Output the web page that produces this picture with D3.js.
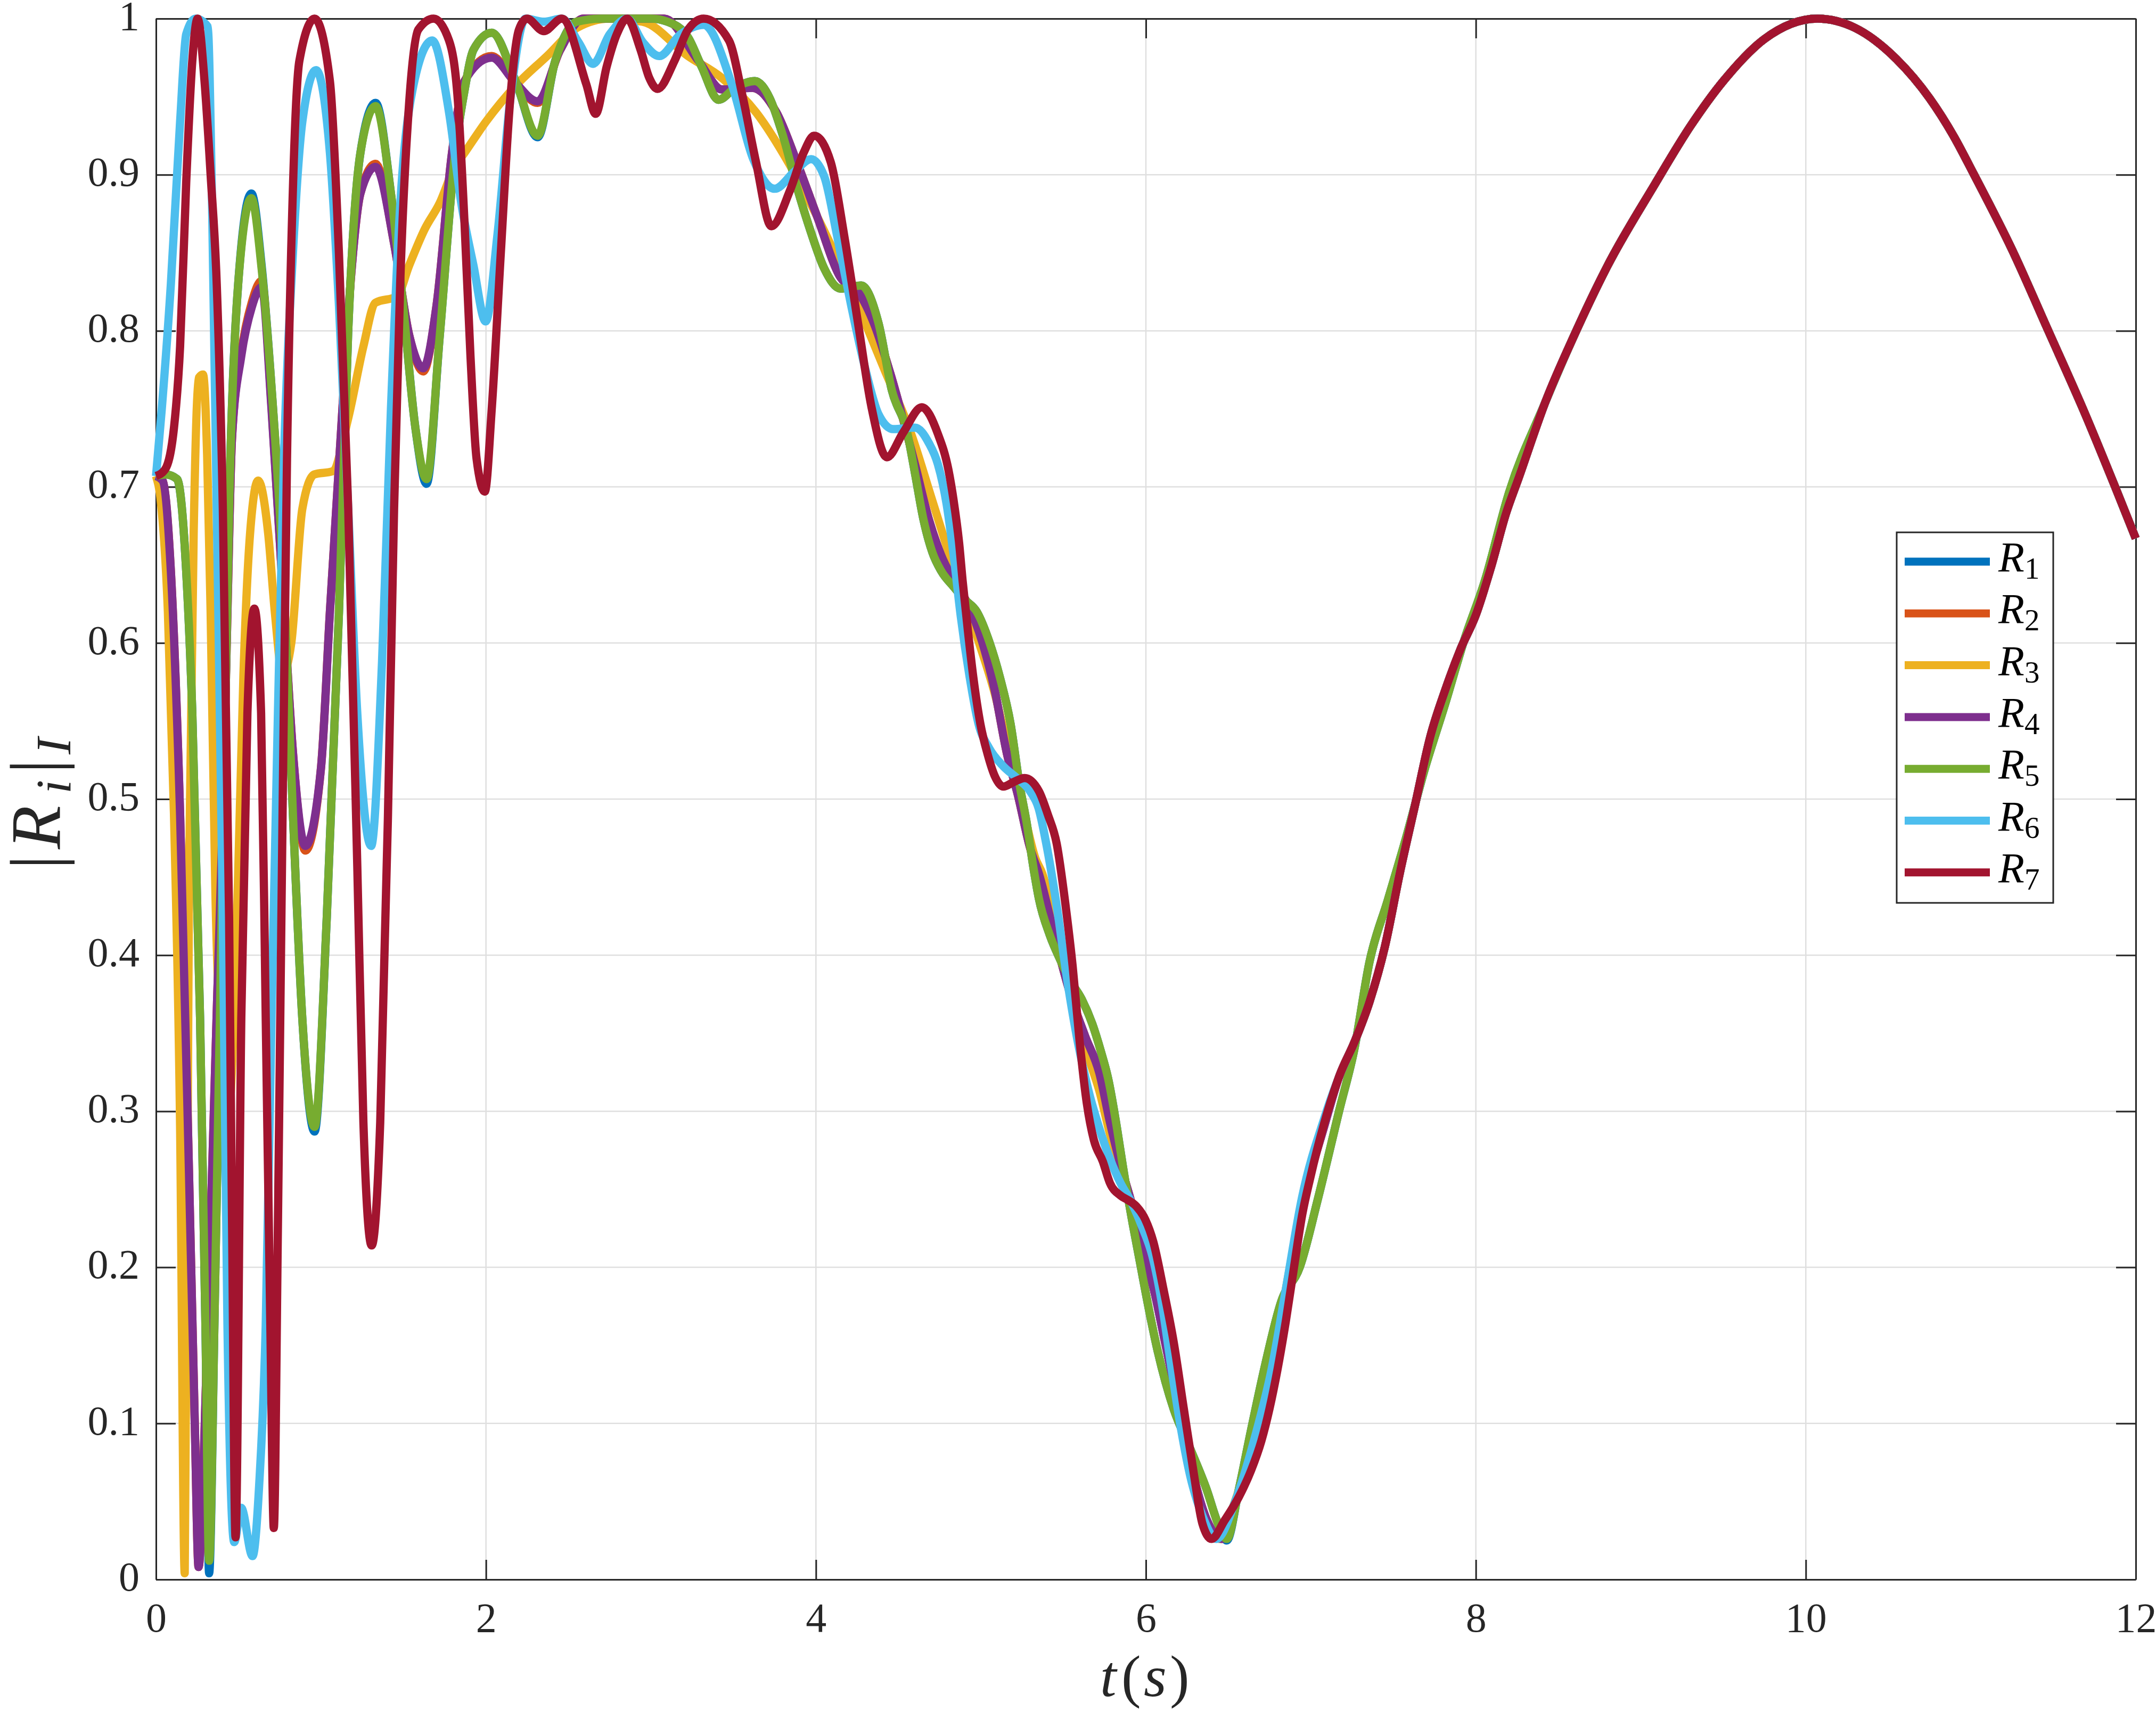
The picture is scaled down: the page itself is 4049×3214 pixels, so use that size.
<!DOCTYPE html>
<html><head><meta charset="utf-8">
<script src="https://cdn.jsdelivr.net/npm/d3@7"></script>
<style>body{margin:0;background:#fff}svg{display:block}</style>
</head><body>
<svg id="chart" width="4049" height="3214"></svg>
<script>
// ---------------- data (t in s, value |R_i|_I) ----------------
const seriesNames = ["1","2","3","4","5","6","7"];
const seriesColors = ["#0072BD","#D95319","#EDB120","#7E2F8E","#77AC30","#4DBEEE","#A2142F"];
const xTickValues = [0,2,4,6,8,10,12];
const xTickLabels = ["0","2","4","6","8","10","12"];
const yTickValues = [0,0.1,0.2,0.3,0.4,0.5,0.6,0.7,0.8,0.9,1];
const yTickLabels = ["0","0.1","0.2","0.3","0.4","0.5","0.6","0.7","0.8","0.9","1"];

// shared late part (curves overlap)
const lateCommon = [[7.172,0.3224],[7.264,0.3443],[7.356,0.3703],[7.448,0.4052],[7.54,0.453],[7.632,0.4964],[7.724,0.54],[7.816,0.5703],[7.908,0.5963],[8.0,0.618],[8.092,0.6486],[8.184,0.6834],[8.257,0.705]];
const tailCommon = [[8.42,0.754],[8.6,0.798],[8.8,0.842],[9.08,0.893],[9.3,0.931],[9.5,0.96],[9.75,0.987],[10.07,1.0],[10.3,0.994],[10.55,0.974],[10.75,0.949],[10.9,0.924],[11.02,0.90],[11.25,0.852],[11.47,0.80],[11.7,0.745],[11.875,0.70],[12,0.667]];

const r1Early = [[0,0.707],[0.06,0.708],[0.128,0.705],[0.183,0.646],[0.22,0.555],[0.267,0.36],[0.3,0.16],[0.322,0.004],[0.355,0.17],[0.387,0.359],[0.415,0.53],[0.443,0.686],[0.498,0.83],[0.578,0.888],[0.64,0.842],[0.70,0.764],[0.776,0.633],[0.83,0.49],[0.887,0.359],[0.961,0.287],[1.035,0.424],[1.109,0.62],[1.165,0.80],[1.239,0.914],[1.331,0.946],[1.424,0.888],[1.498,0.816],[1.572,0.738],[1.64,0.702],[1.72,0.797],[1.813,0.914],[1.87,0.954],[1.924,0.98],[2.035,0.991],[2.18,0.96],[2.313,0.924],[2.42,0.973],[2.55,0.998],[2.7,1.0],[3.0,1.0],[3.1,0.998],[3.225,0.988],[3.308,0.969],[3.41,0.948],[3.514,0.956],[3.63,0.96],[3.72,0.949],[3.8,0.925],[3.885,0.892],[3.967,0.864],[4.05,0.84],[4.15,0.827],[4.275,0.829],[4.379,0.805],[4.46,0.762],[4.555,0.734],[4.6,0.709],[4.652,0.679],[4.706,0.658],[4.76,0.646],[4.835,0.636],[4.9,0.628],[4.975,0.62],[5.05,0.601],[5.115,0.578],[5.18,0.548],[5.233,0.51],[5.277,0.485],[5.32,0.455],[5.352,0.436],[5.417,0.413],[5.481,0.397],[5.546,0.383],[5.61,0.372],[5.675,0.356],[5.728,0.338],[5.771,0.321],[5.825,0.289],[5.86,0.265],[5.92,0.228],[5.97,0.2],[6.0,0.183],[6.07,0.147],[6.169,0.109],[6.268,0.084],[6.367,0.058],[6.44,0.035],[6.49,0.025],[6.564,0.058],[6.638,0.096],[6.724,0.138],[6.82,0.178],[6.934,0.2005],[7.043,0.244],[7.172,0.3005],[7.264,0.34],[7.356,0.396],[7.467,0.4355],[7.576,0.4748],[7.687,0.518],[7.816,0.5617],[7.926,0.6007],[8.055,0.64],[8.202,0.6966]];

const r2Early = [[0,0.707],[0.04,0.704],[0.09,0.646],[0.146,0.49],[0.2,0.26],[0.235,0.1],[0.258,0.008],[0.29,0.08],[0.331,0.228],[0.37,0.37],[0.405,0.49],[0.435,0.63],[0.46,0.73],[0.517,0.786],[0.58,0.818],[0.64,0.832],[0.70,0.752],[0.776,0.62],[0.83,0.53],[0.905,0.467],[1.0,0.52],[1.054,0.62],[1.13,0.75],[1.183,0.836],[1.239,0.888],[1.331,0.907],[1.443,0.856],[1.535,0.797],[1.62,0.774],[1.70,0.816],[1.794,0.914],[1.87,0.96],[2.035,0.976],[2.17,0.96],[2.313,0.946],[2.45,0.98],[2.59,1.0],[3.08,1.0],[3.288,0.973],[3.43,0.9546],[3.615,0.9557],[3.76,0.94],[3.885,0.908],[4.008,0.873],[4.15,0.834],[4.255,0.825],[4.358,0.803],[4.45,0.773],[4.6,0.7146],[4.685,0.679],[4.76,0.656],[4.846,0.638],[4.922,0.6247],[5.007,0.601],[5.083,0.57],[5.158,0.529],[5.223,0.503],[5.30,0.468],[5.352,0.452],[5.459,0.407],[5.546,0.3736],[5.632,0.348],[5.718,0.3244],[5.782,0.293],[5.846,0.2657],[5.911,0.242],[5.975,0.2146],[6.05,0.185],[6.12,0.15],[6.2,0.11],[6.28,0.07],[6.37,0.038],[6.46,0.026],[6.56,0.055],[6.67,0.095],[6.77,0.14],[6.86,0.19],[6.95,0.24],[7.08,0.29]];

const r3Early = [[0,0.707],[0.03,0.69],[0.072,0.62],[0.109,0.49],[0.146,0.29],[0.174,0.004],[0.2,0.45],[0.23,0.68],[0.26,0.77],[0.285,0.772],[0.31,0.72],[0.331,0.62],[0.36,0.44],[0.40,0.33],[0.44,0.30],[0.49,0.42],[0.53,0.58],[0.57,0.67],[0.619,0.704],[0.68,0.67],[0.72,0.62],[0.767,0.58],[0.82,0.60],[0.887,0.686],[0.96,0.708],[1.07,0.71],[1.165,0.744],[1.257,0.79],[1.33,0.818],[1.46,0.822],[1.535,0.842],[1.628,0.865],[1.72,0.882],[1.81,0.905],[1.87,0.914],[2.0,0.934],[2.18,0.957],[2.37,0.976],[2.55,0.994],[2.75,1.0],[2.95,0.998],[3.225,0.976],[3.43,0.962],[3.637,0.94],[3.843,0.906],[4.05,0.864],[4.255,0.816],[4.416,0.775],[4.577,0.734],[4.706,0.691],[4.835,0.648],[4.9,0.628],[4.986,0.601],[5.083,0.568],[5.18,0.525],[5.244,0.499],[5.33,0.462],[5.373,0.452],[5.481,0.403],[5.567,0.3637],[5.653,0.3344],[5.718,0.313],[5.782,0.2855],[5.846,0.262],[5.911,0.242],[5.975,0.2165],[6.03,0.195],[6.1,0.165],[6.17,0.13],[6.25,0.085],[6.33,0.048],[6.45,0.026],[6.54,0.05],[6.663,0.092],[6.762,0.1347],[6.848,0.1858],[6.947,0.24],[7.08,0.292]];

const r4Early = [[0,0.707],[0.04,0.704],[0.09,0.646],[0.146,0.49],[0.2,0.26],[0.235,0.1],[0.258,0.008],[0.29,0.08],[0.331,0.228],[0.37,0.37],[0.405,0.49],[0.435,0.63],[0.46,0.73],[0.517,0.784],[0.58,0.815],[0.64,0.828],[0.70,0.75],[0.776,0.62],[0.83,0.53],[0.905,0.47],[1.0,0.52],[1.054,0.62],[1.13,0.75],[1.183,0.836],[1.239,0.888],[1.331,0.905],[1.443,0.856],[1.535,0.797],[1.62,0.776],[1.70,0.816],[1.794,0.914],[1.87,0.96],[2.035,0.975],[2.17,0.96],[2.313,0.947],[2.45,0.98],[2.59,1.0],[3.08,1.0],[3.288,0.973],[3.43,0.9546],[3.615,0.9557],[3.76,0.94],[3.885,0.908],[4.008,0.873],[4.15,0.834],[4.255,0.825],[4.358,0.803],[4.45,0.773],[4.6,0.7146],[4.685,0.679],[4.76,0.656],[4.846,0.638],[4.922,0.6247],[5.007,0.601],[5.083,0.57],[5.158,0.529],[5.223,0.503],[5.30,0.468],[5.352,0.452],[5.459,0.407],[5.546,0.3736],[5.632,0.348],[5.718,0.3244],[5.782,0.293],[5.846,0.2657],[5.911,0.242],[5.975,0.2146],[6.05,0.185],[6.12,0.15],[6.2,0.11],[6.28,0.07],[6.37,0.038],[6.46,0.026],[6.56,0.055],[6.67,0.095],[6.77,0.14],[6.86,0.19],[6.95,0.24],[7.08,0.29]];

const r5Early = [[0,0.707],[0.06,0.708],[0.128,0.705],[0.183,0.646],[0.22,0.555],[0.267,0.36],[0.3,0.16],[0.322,0.012],[0.355,0.17],[0.387,0.359],[0.415,0.53],[0.443,0.686],[0.498,0.83],[0.578,0.885],[0.64,0.84],[0.70,0.764],[0.776,0.633],[0.83,0.49],[0.887,0.359],[0.961,0.29],[1.035,0.424],[1.109,0.62],[1.165,0.80],[1.239,0.914],[1.331,0.944],[1.424,0.888],[1.498,0.816],[1.572,0.738],[1.64,0.705],[1.72,0.797],[1.813,0.914],[1.87,0.954],[1.924,0.98],[2.035,0.991],[2.18,0.96],[2.313,0.925],[2.42,0.973],[2.55,0.998],[2.7,1.0],[3.0,1.0],[3.1,0.998],[3.225,0.988],[3.308,0.969],[3.41,0.948],[3.514,0.956],[3.63,0.96],[3.72,0.949],[3.8,0.925],[3.885,0.892],[3.967,0.864],[4.05,0.84],[4.15,0.827],[4.275,0.829],[4.379,0.805],[4.46,0.762],[4.555,0.734],[4.6,0.709],[4.652,0.679],[4.706,0.658],[4.76,0.646],[4.835,0.636],[4.9,0.628],[4.975,0.62],[5.05,0.601],[5.115,0.578],[5.18,0.548],[5.233,0.51],[5.277,0.485],[5.32,0.455],[5.352,0.436],[5.417,0.413],[5.481,0.397],[5.546,0.383],[5.61,0.372],[5.675,0.356],[5.728,0.338],[5.771,0.321],[5.825,0.289],[5.86,0.265],[5.92,0.228],[5.97,0.2],[6.0,0.183],[6.07,0.147],[6.169,0.109],[6.268,0.084],[6.367,0.058],[6.44,0.035],[6.49,0.026],[6.564,0.058],[6.638,0.096],[6.724,0.138],[6.82,0.178],[6.934,0.2005],[7.043,0.244],[7.172,0.3005],[7.264,0.34],[7.356,0.396],[7.467,0.4355],[7.576,0.4748],[7.687,0.518],[7.816,0.5617],[7.926,0.6007],[8.055,0.64],[8.202,0.6966]];

const r6Early = [[0,0.707],[0.035,0.75],[0.09,0.83],[0.146,0.934],[0.183,0.99],[0.24,1.0],[0.313,0.995],[0.34,0.88],[0.368,0.686],[0.405,0.424],[0.433,0.163],[0.474,0.024],[0.516,0.046],[0.585,0.015],[0.625,0.06],[0.665,0.163],[0.70,0.36],[0.739,0.555],[0.776,0.72],[0.83,0.85],[0.887,0.934],[0.97,0.967],[1.054,0.914],[1.109,0.816],[1.165,0.686],[1.22,0.555],[1.304,0.47],[1.37,0.588],[1.424,0.75],[1.48,0.88],[1.554,0.954],[1.674,0.986],[1.776,0.94],[1.85,0.882],[1.924,0.842],[1.998,0.806],[2.07,0.862],[2.146,0.947],[2.24,1.0],[2.35,0.998],[2.46,1.0],[2.56,0.985],[2.649,0.971],[2.75,0.99],[2.855,1.0],[2.95,0.985],[3.05,0.976],[3.18,0.99],[3.32,0.996],[3.49,0.958],[3.62,0.91],[3.75,0.891],[3.87,0.902],[3.97,0.91],[4.05,0.899],[4.13,0.86],[4.214,0.816],[4.296,0.777],[4.379,0.7466],[4.47,0.737],[4.6,0.738],[4.685,0.728],[4.739,0.7146],[4.792,0.689],[4.835,0.656],[4.878,0.617],[4.932,0.578],[4.986,0.548],[5.05,0.5326],[5.136,0.521],[5.223,0.513],[5.298,0.505],[5.35,0.494],[5.395,0.472],[5.459,0.432],[5.524,0.3835],[5.588,0.344],[5.653,0.3128],[5.718,0.289],[5.782,0.2695],[5.846,0.254],[5.911,0.242],[5.975,0.2265],[6.04,0.207],[6.1,0.175],[6.144,0.1433],[6.206,0.1008],[6.268,0.0667],[6.342,0.041],[6.428,0.026],[6.54,0.0497],[6.663,0.092],[6.762,0.1347],[6.848,0.1858],[6.947,0.245],[7.08,0.295]];

const r7Early = [[0,0.707],[0.054,0.711],[0.109,0.738],[0.146,0.79],[0.183,0.895],[0.22,0.973],[0.252,1.0],[0.294,0.96],[0.331,0.9],[0.368,0.83],[0.405,0.686],[0.443,0.424],[0.461,0.228],[0.482,0.027],[0.517,0.36],[0.554,0.555],[0.596,0.622],[0.637,0.555],[0.665,0.36],[0.693,0.163],[0.714,0.033],[0.739,0.228],[0.767,0.49],[0.794,0.718],[0.831,0.895],[0.869,0.973],[0.961,1.0],[1.054,0.96],[1.109,0.849],[1.165,0.686],[1.22,0.457],[1.257,0.293],[1.307,0.214],[1.359,0.293],[1.406,0.49],[1.443,0.686],[1.48,0.83],[1.535,0.947],[1.59,0.993],[1.683,1.0],[1.776,0.986],[1.83,0.947],[1.87,0.869],[1.906,0.784],[1.943,0.718],[1.993,0.697],[2.035,0.75],[2.09,0.85],[2.146,0.947],[2.2,0.993],[2.248,1.0],[2.35,0.992],[2.46,1.0],[2.608,0.958],[2.665,0.939],[2.731,0.969],[2.793,0.99],[2.855,1.0],[2.937,0.98],[2.99,0.962],[3.04,0.955],[3.143,0.973],[3.225,0.993],[3.32,1.0],[3.473,0.986],[3.554,0.951],[3.637,0.908],[3.73,0.867],[3.843,0.89],[3.925,0.914],[3.99,0.925],[4.09,0.908],[4.173,0.86],[4.255,0.805],[4.337,0.751],[4.43,0.719],[4.53,0.735],[4.642,0.751],[4.739,0.734],[4.803,0.711],[4.835,0.691],[4.868,0.664],[4.889,0.64],[4.922,0.607],[4.954,0.578],[4.997,0.548],[5.04,0.529],[5.083,0.515],[5.136,0.508],[5.2,0.511],[5.265,0.5135],[5.352,0.505],[5.406,0.49],[5.459,0.4716],[5.513,0.432],[5.556,0.393],[5.599,0.344],[5.642,0.305],[5.685,0.2814],[5.739,0.2678],[5.782,0.254],[5.846,0.246],[5.89,0.2432],[5.943,0.239],[5.997,0.2305],[6.045,0.2164],[6.107,0.1858],[6.169,0.1518],[6.23,0.1093],[6.292,0.0667],[6.342,0.036],[6.398,0.026],[6.478,0.038],[6.564,0.053],[6.638,0.07],[6.7,0.0888],[6.749,0.1093],[6.798,0.1347],[6.848,0.1653],[6.897,0.1995],[6.947,0.2334],[6.996,0.2572],[7.08,0.292]];

const seriesData = [
  r1Early.concat(tailCommon),
  r2Early.concat(lateCommon, tailCommon),
  r3Early.concat(lateCommon, tailCommon),
  r4Early.concat(lateCommon, tailCommon),
  r5Early.concat(tailCommon),
  r6Early.concat(lateCommon, tailCommon),
  r7Early.concat(lateCommon, tailCommon)
];

// ---------------- drawing ----------------
const W = 4049, H = 3214;
const x = d3.scaleLinear().domain([0, 12]).range([293, 4011]);
const y = d3.scaleLinear().domain([0, 1]).range([2967, 35]);
const AX = "#262626";
const FONT = "'Liberation Serif', 'Times New Roman', serif";
const TICK = 37;

const svg = d3.select("#chart");
svg.append("rect").attr("width", W).attr("height", H).attr("fill", "#fff");

// grid
const grid = svg.append("g");
grid.selectAll(".gx").data(xTickValues).enter().append("line")
  .attr("x1", d => x(d)).attr("x2", d => x(d)).attr("y1", y(0)).attr("y2", y(1))
  .attr("stroke", "#dfdfdf").attr("stroke-width", 2.5);
grid.selectAll(".gy").data(yTickValues).enter().append("line")
  .attr("x1", x(0)).attr("x2", x(12)).attr("y1", d => y(d)).attr("y2", d => y(d))
  .attr("stroke", "#dfdfdf").attr("stroke-width", 2.5);

// axes
function styleAxis(g) {
  g.select(".domain").attr("stroke", AX).attr("stroke-width", 3);
  g.selectAll(".tick line").attr("stroke", AX).attr("stroke-width", 3);
  g.selectAll(".tick text").attr("fill", AX).attr("font-family", FONT).attr("font-size", 78);
}
const gB = svg.append("g").attr("transform", `translate(0,${y(0)})`)
  .call(d3.axisBottom(x).tickValues(xTickValues).tickFormat((d, i) => xTickLabels[i])
    .tickSize(-TICK).tickSizeOuter(0).tickPadding(43));
styleAxis(gB);
const gT = svg.append("g").attr("transform", `translate(0,${y(1)})`)
  .call(d3.axisTop(x).tickValues(xTickValues).tickFormat("").tickSize(-TICK).tickSizeOuter(0));
styleAxis(gT);
const gL = svg.append("g").attr("transform", `translate(${x(0)},0)`)
  .call(d3.axisLeft(y).tickValues(yTickValues).tickFormat((d, i) => yTickLabels[i])
    .tickSize(-TICK).tickSizeOuter(0).tickPadding(31));
styleAxis(gL);
gL.selectAll(".tick text").attr("dy", "0.26em");
const gR = svg.append("g").attr("transform", `translate(${x(12)},0)`)
  .call(d3.axisRight(y).tickValues(yTickValues).tickFormat("").tickSize(-TICK).tickSizeOuter(0));
styleAxis(gR);

// lines
const line = d3.line().x(d => x(d[0])).y(d => y(d[1])).curve(d3.curveMonotoneX);
svg.append("g").selectAll("path").data(seriesData).enter().append("path")
  .attr("d", line).attr("fill", "none")
  .attr("stroke", (d, i) => seriesColors[i]).attr("stroke-width", 15.5)
  .attr("stroke-linejoin", "round");

// axis labels
const xl = svg.append("text").attr("y", 3186)
  .attr("font-family", FONT).attr("font-size", 110).attr("fill", AX);
xl.append("tspan").attr("x", 2066).attr("font-style", "italic").text("t");
xl.append("tspan").attr("x", 2106).text("(");
xl.append("tspan").attr("x", 2148).attr("font-style", "italic").text("s");
xl.append("tspan").attr("x", 2197).text(")");

const yl = svg.append("text").attr("transform", "translate(112,1497) rotate(-90)")
  .attr("font-family", FONT).attr("font-size", 134).attr("fill", AX);
yl.append("tspan").attr("x", -136).text("|");
yl.append("tspan").attr("x", -98).attr("font-style", "italic").text("R");
yl.append("tspan").attr("x", 6).attr("dy", 20).attr("font-style", "italic").attr("font-size", 94).text("i");
yl.append("tspan").attr("x", 44).attr("dy", -20).text("|");
yl.append("tspan").attr("x", 80).attr("dy", 20).attr("font-style", "italic").attr("font-size", 94).text("I");

// legend
const lg = svg.append("g");
lg.append("rect").attr("x", 3562).attr("y", 1000).attr("width", 294).attr("height", 696)
  .attr("fill", "#fff").attr("stroke", AX).attr("stroke-width", 3);
seriesNames.forEach((n, i) => {
  const cy = 1055 + i * 97.3;
  lg.append("line").attr("x1", 3577).attr("x2", 3737).attr("y1", cy).attr("y2", cy)
    .attr("stroke", seriesColors[i]).attr("stroke-width", 15);
  const t = lg.append("text").attr("x", 3753).attr("y", cy + 19)
    .attr("font-family", FONT).attr("font-size", 80).attr("fill", "#000");
  t.append("tspan").attr("font-style", "italic").text("R");
  t.append("tspan").attr("font-size", 57).attr("dy", 13).text(n);
});
</script>
</body></html>
